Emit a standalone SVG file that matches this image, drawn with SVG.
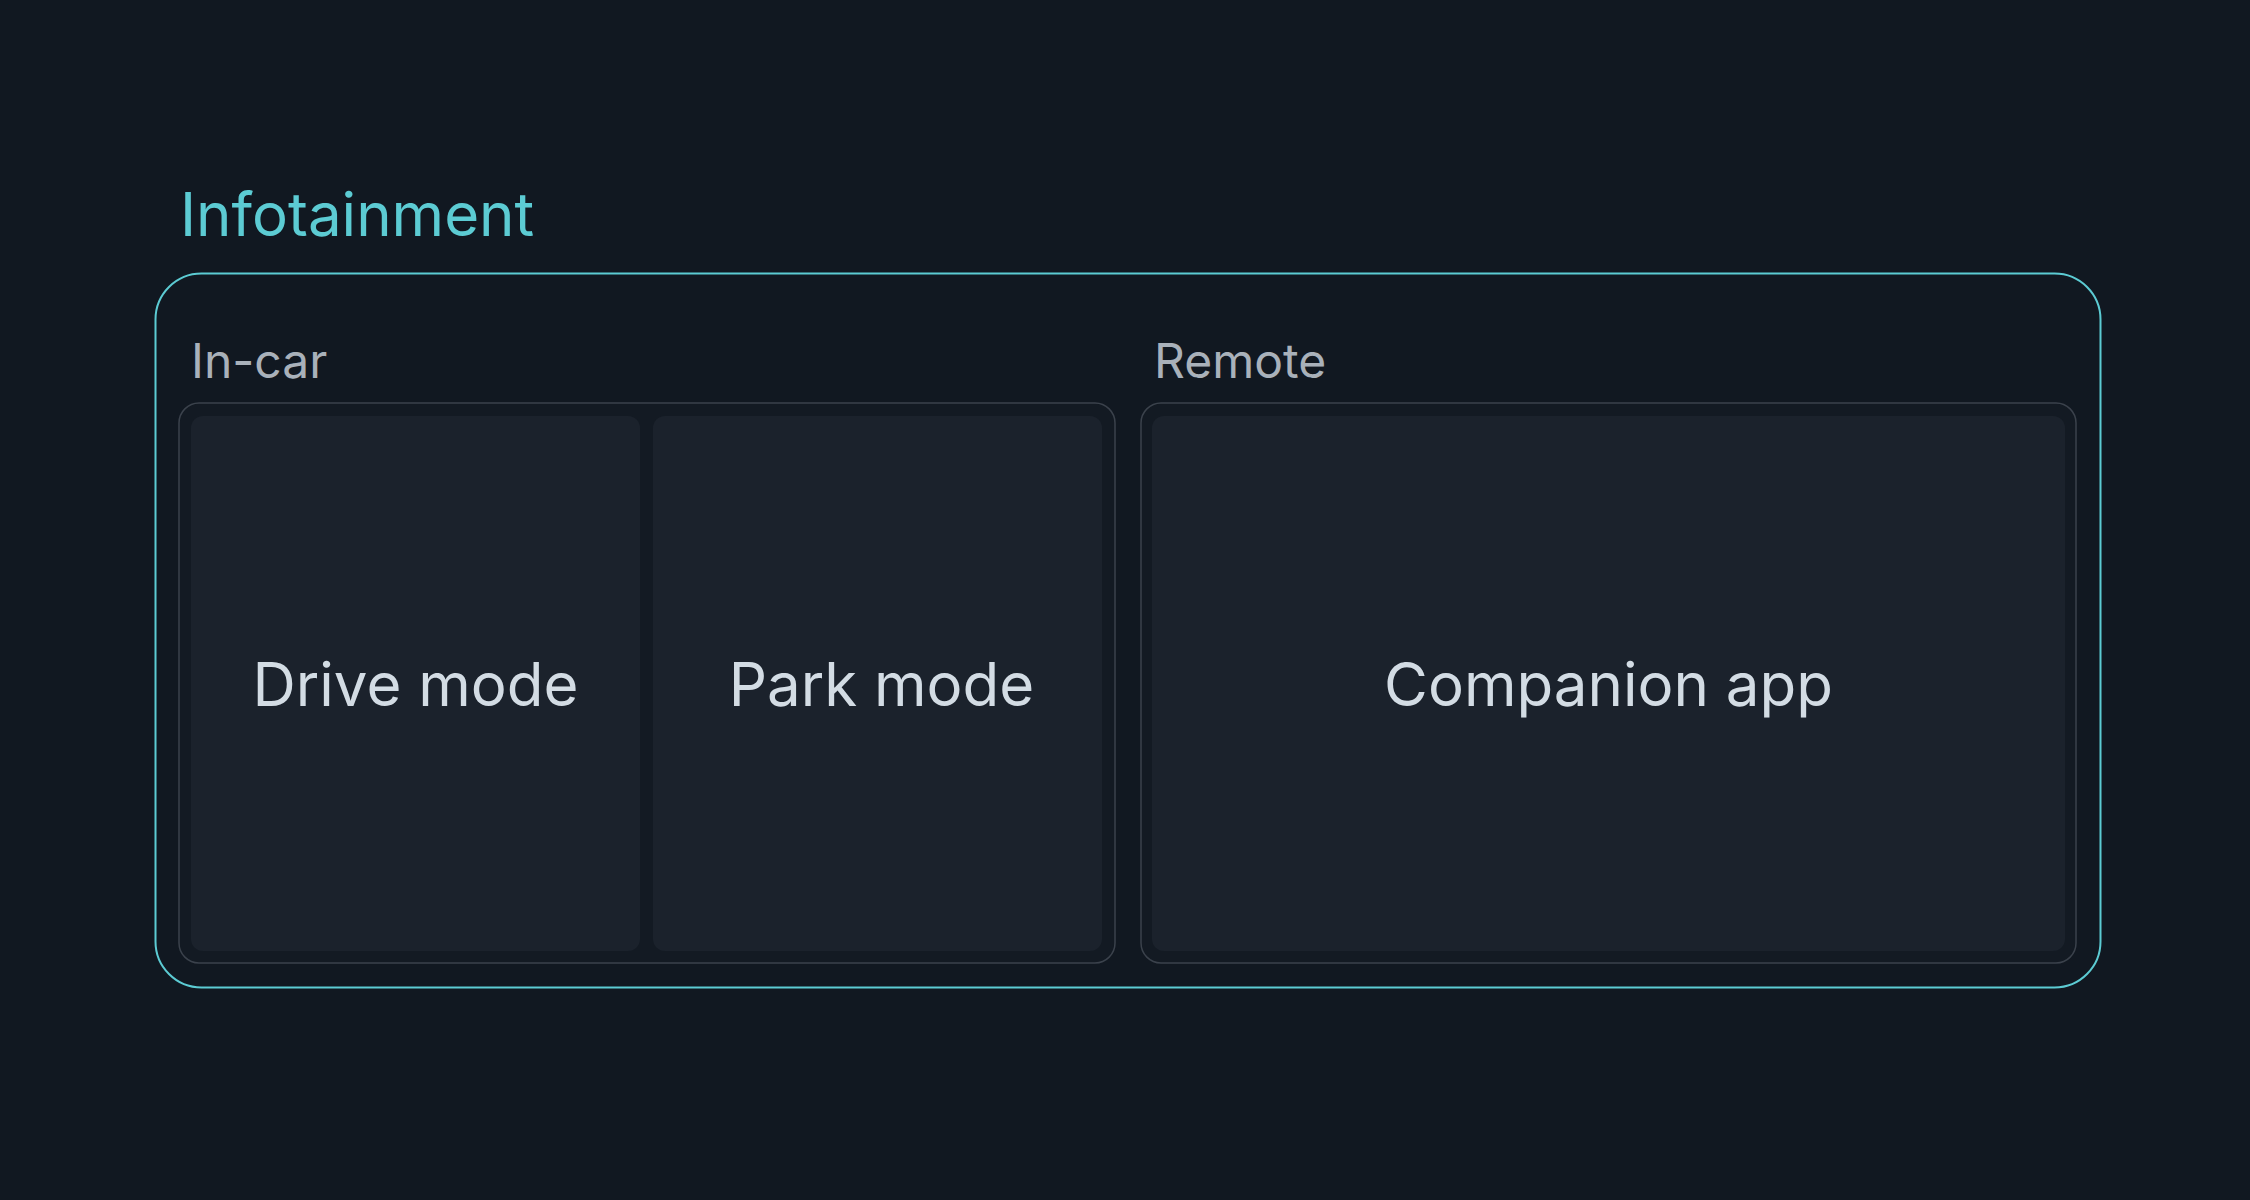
<svg xmlns="http://www.w3.org/2000/svg" width="2250" height="1200" viewBox="0 0 2250 1200">
<style>
.title{font-family:Inter,"Noto Sans",sans-serif;font-size:60px;fill:#5ccbd3}
.glabel{font-family:Inter,"Noto Sans",sans-serif;font-size:48px;fill:#a9b1ba}
.tlabel{font-family:Inter,"Noto Sans",sans-serif;font-size:60px;fill:#d3dce4;text-anchor:middle}
.group{fill:#131a23;stroke:#3b424c;stroke-width:1.5}
.tile{fill:#1b222c}
</style>
<rect x="0" y="0" width="2250" height="1200" fill="#111821"/>
<g id="infotainment">
<rect x="155.5" y="273.5" width="1945" height="714" rx="46" fill="#111821" stroke="#5ccbd3" stroke-width="2"/>
<text class="title" x="180" y="236">Infotainment</text>
</g>
<g id="in-car">
<text class="glabel" x="191" y="378">In-car</text>
<rect class="group" x="179" y="403" width="936" height="560" rx="20"/>
</g>
<g id="drive-mode">
<rect class="tile" x="191" y="416" width="449" height="535" rx="12"/>
<text class="tlabel" x="415.5" y="706">Drive mode</text>
</g>
<g id="park-mode">
<rect class="tile" x="653" y="416" width="449" height="535" rx="12"/>
<text class="tlabel" x="881.5" y="706">Park mode</text>
</g>
<g id="remote">
<text class="glabel" x="1154" y="378">Remote</text>
<rect class="group" x="1141" y="403" width="935" height="560" rx="20"/>
</g>
<g id="companion-app">
<rect class="tile" x="1152" y="416" width="913" height="535" rx="12"/>
<text class="tlabel" x="1608.5" y="706">Companion app</text>
</g>
<g id="connectors"></g>
</svg>
